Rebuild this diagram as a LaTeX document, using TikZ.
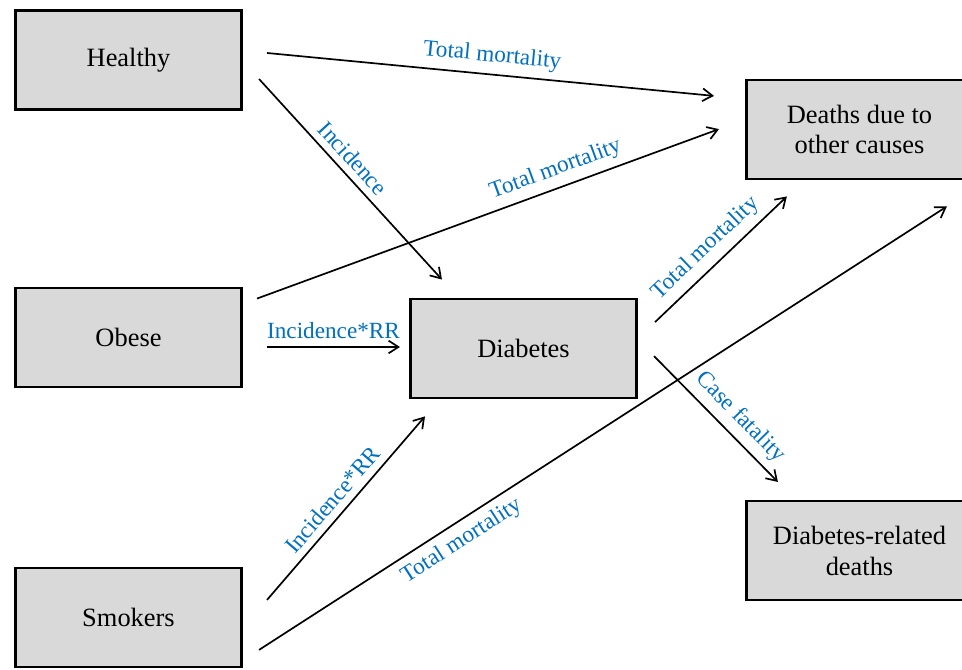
\documentclass[tikz,border=0pt]{standalone}
\usepackage{fontspec}
\setmainfont{Liberation Serif}
\usepackage{xcolor}
\definecolor{rateblue}{RGB}{0,112,192}
\definecolor{boxgray}{RGB}{217,217,217}
\usetikzlibrary{arrows.meta,calc}

\begin{document}
\begin{tikzpicture}[
  state/.style={draw,fill=boxgray,line width=1.9pt,minimum width=5.66cm,
    minimum height=2.48cm,align=center,font=\fontsize{18.8}{22}\selectfont},
  flow/.style={line width=1.2pt,-{Straight Barb[length=7pt,width=9pt]}},
  rate/.style={text=rateblue,font=\fontsize{16.5}{19}\selectfont,sloped,inner sep=5pt}]

  %% Canvas 962x670 px, 40 px = 1 cm
  \useasboundingbox (0,0) rectangle (24.05,16.75);
  \clip (0,0) rectangle (24.05,16.75);

  %% Population groups (left)
  \node[state] (healthy) at (3.2125,15.25) {Healthy};
  \node[state] (obese) at (3.2125,8.3125) {Obese};
  \node[state] (smokers) at (3.2125,1.3125) {Smokers};

  %% Disease state
  \node[state] (diabetes) at (13.0875,8.0375) {Diabetes};

  %% Outcomes (right, cut by the frame)
  \node[state] (deaths) at (21.4875,13.5125) {Deaths due to\\other causes};
  \node[state] (dmdeaths) at (21.4875,2.9875) {Diabetes-related\\deaths};

  %% From Healthy
  \draw[flow] ($(healthy.east)+(0.6,0.175)$) --
    node[rate,above] (tmHealthy) {Total mortality}
    ($(deaths.west)+(-0.775,0.84)$);
  \draw[flow] ($(healthy.east)+(0.4,-0.475)$) --
    node[rate,above,pos=0.45] (incHealthy) {Incidence}
    ($(diabetes.north west)+(0.825,0.45)$);

  %% From Obese
  \draw[flow] ($(obese.north east)+(0.35,-0.3)$) --
    node[rate,above,pos=0.66] (tmObese) {Total mortality}
    ($(deaths.west)+(-0.65,0.01)$);
  \draw[flow] ($(obese.east)+(0.6,-0.2375)$) --
    node[rate,above] (incObese) {Incidence*RR}
    ($(diabetes.west)+(-0.225,0.0375)$);

  %% From Smokers
  \draw[flow] ($(smokers.east)+(0.6,0.44)$) --
    node[rate,above,pos=0.49] (incSmokers) {Incidence*RR}
    ($(diabetes.south west)+(0.4,-0.425)$);
  \draw[flow] ($(smokers.east)+(0.4,-0.81)$) --
    node[rate,below,pos=0.28] (tmSmokers) {Total mortality}
    ($(deaths.south)+(2.185,-0.65)$);

  %% From Diabetes
  \draw[flow] ($(diabetes.east)+(0.425,0.66)$) --
    node[rate,above,pos=0.48] (tmDiabetes) {Total mortality}
    ($(deaths.south)+(-1.815,-0.4)$);
  \draw[flow] ($(diabetes.east)+(0.4,-0.19)$) --
    node[rate,above,pos=0.59] (cfDiabetes) {Case fatality}
    ($(dmdeaths.north)+(-2.04,0.44)$);
\end{tikzpicture}
\end{document}
